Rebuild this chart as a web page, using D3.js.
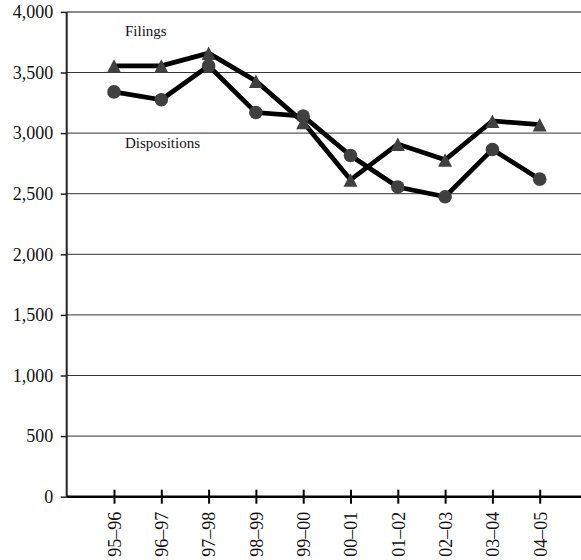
<!DOCTYPE html>
<html><head><meta charset="utf-8">
<script src="https://cdn.jsdelivr.net/npm/d3@7"></script>
<style>html,body{margin:0;padding:0;background:#fff;overflow:hidden}svg{display:block}</style>
</head><body>
<svg id="chart" width="581" height="560"></svg>
<script>
const categories = ["95–96","96–97","97–98","98–99","99–00","00–01","01–02","02–03","03–04","04–05"];
const filings = [3555, 3555, 3660, 3430, 3090, 2615, 2910, 2780, 3100, 3070];
const dispositions = [3340, 3275, 3555, 3170, 3140, 2815, 2555, 2475, 2865, 2620];
const yTicks = [0, 500, 1000, 1500, 2000, 2500, 3000, 3500, 4000];
const seriesLabels = [{text: "Filings", value: 3805}, {text: "Dispositions", value: 2875}];

(function () {
const svg = d3.select("#chart");
const mLeft = 66.7, mRight = 587, mTop = 11.9, mBottom = 496.7;
const x = d3.scalePoint().domain(categories).range([mLeft, mRight]).padding(1);
const y = d3.scaleLinear().domain([0, 4000]).range([mBottom, mTop]);
const font = "'Liberation Serif','Times New Roman',serif";

// gridlines
svg.append("g").selectAll("line").data(yTicks.filter(d => d > 0)).join("line")
  .attr("x1", mLeft).attr("x2", 581)
  .attr("y1", d => y(d)).attr("y2", d => y(d))
  .attr("stroke", d => d === 4000 ? "#888" : "#333")
  .attr("stroke-width", d => d === 4000 ? 2 : 1);

// y axis
const yAxis = svg.append("g").attr("transform", `translate(${mLeft},0)`)
  .call(d3.axisLeft(y).tickValues(yTicks).tickFormat(d3.format(",")).tickSize(6).tickPadding(7.5));
yAxis.select(".domain").remove();
yAxis.selectAll(".tick line").attr("stroke", "#222").attr("stroke-width", 1.5);
yAxis.selectAll("text").attr("font-family", font).attr("font-size", 18).attr("fill", "#111");
svg.append("line").attr("x1", mLeft).attr("x2", mLeft).attr("y1", y(4000)).attr("y2", mBottom)
  .attr("stroke", "#222").attr("stroke-width", 2);

// x axis
const xAxis = svg.append("g").attr("transform", `translate(0,${mBottom})`)
  .call(d3.axisBottom(x).tickSizeInner(7).tickSizeOuter(0).tickPadding(8));
xAxis.select(".domain").attr("stroke", "#000").attr("stroke-width", 2.5)
  .attr("d", `M${mLeft},0H581`);
xAxis.selectAll(".tick line").attr("y1", -7).attr("y2", 7).attr("stroke", "#000").attr("stroke-width", 2);
xAxis.selectAll(".tick text")
  .attr("font-family", font).attr("font-size", 18).attr("fill", "#111")
  .attr("transform", "rotate(-90)")
  .attr("text-anchor", "end").attr("dy", "0.35em").attr("x", -15).attr("y", 0);

// lines
const line = d3.line().x((d, i) => x(categories[i])).y(d => y(d));
[filings, dispositions].forEach(s => {
  svg.append("path").datum(s).attr("d", line).attr("fill", "none")
    .attr("stroke", "#000").attr("stroke-width", 4.7).attr("stroke-linejoin", "miter");
});

// markers
svg.append("g").selectAll("circle").data(dispositions).join("circle")
  .attr("cx", (d, i) => x(categories[i])).attr("cy", d => y(d)).attr("r", 6.8).attr("fill", "#404040");
svg.append("g").selectAll("path").data(filings).join("path")
  .attr("d", (d, i) => {
    const cx = x(categories[i]), cy = y(d) + 0.5;
    return `M${cx},${cy - 7}L${cx + 7},${cy + 6.5}L${cx - 7},${cy + 6.5}Z`;
  }).attr("fill", "#404040");

// series labels
svg.append("g").selectAll("text").data(seriesLabels).join("text")
  .attr("x", 125).attr("y", d => y(d.value))
  .attr("font-family", font).attr("font-size", 15).attr("fill", "#111")
  .text(d => d.text);
})();
</script>
</body></html>
